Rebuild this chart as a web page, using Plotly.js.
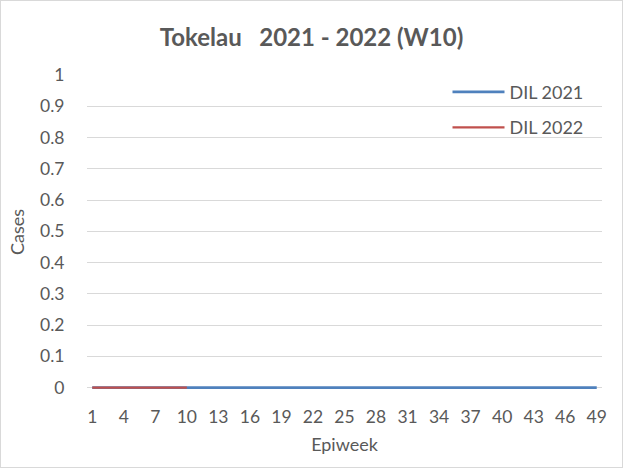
<!DOCTYPE html>
<html>
<head>
<meta charset="utf-8">
<script src="https://cdn.plot.ly/plotly-3.0.1.min.js"></script>
<style>
html,body{margin:0;padding:0;background:#fff;}
#wrap{width:623px;height:468px;box-sizing:border-box;border:1px solid #d9d9d9;}
#chart{width:621px;height:466px;}
</style>
</head>
<body>
<div id="wrap"><div id="chart"></div></div>
<script>
const weeks2021 = [1,2,3,4,5,6,7,8,9,10,11,12,13,14,15,16,17,18,19,20,21,22,23,24,25,26,27,28,29,30,31,32,33,34,35,36,37,38,39,40,41,42,43,44,45,46,47,48,49];
const dil2021 = [0,0,0,0,0,0,0,0,0,0,0,0,0,0,0,0,0,0,0,0,0,0,0,0,0,0,0,0,0,0,0,0,0,0,0,0,0,0,0,0,0,0,0,0,0,0,0,0,0];
const weeks2022 = [1,2,3,4,5,6,7,8,9,10];
const dil2022 = [0,0,0,0,0,0,0,0,0,0];
const xTicks = [1,4,7,10,13,16,19,22,25,28,31,34,37,40,43,46,49];
const yTicks = [0,0.1,0.2,0.3,0.4,0.5,0.6,0.7,0.8,0.9,1];
const yTickText = ["0","0.1","0.2","0.3","0.4","0.5","0.6","0.7","0.8","0.9","1"];

const font = "Lato, 'Open Sans', sans-serif";
const grey = "#595959";
const traces = [
  {x: weeks2021, y: dil2021, name: "DIL 2021", mode: "lines", legendgroup: "a",
   line: {color: "#4f81bd", width: 2.75}},
  {x: weeks2022, y: dil2022, name: "DIL 2022", mode: "lines", legendgroup: "b",
   line: {color: "#c0504d", width: 2.25}}
];
const layout = {
  width: 621, height: 466,
  margin: {l: 86, r: 20, t: 74, b: 78},
  paper_bgcolor: "#fff", plot_bgcolor: "#fff",
  font: {family: font, color: grey, size: 18},
  title: {text: "<b>Tokelau   2021 - 2022 (W10)</b>", font: {family: font, size: 24, color: grey},
          x: 0.5, xanchor: "center", y: 0.922, yanchor: "middle"},
  xaxis: {range: [0.5, 49.5], tickvals: xTicks, ticktext: xTicks.map(String),
          showgrid: false, zeroline: false, showline: false,
          ticks: "outside", ticklen: 12, tickcolor: "rgba(0,0,0,0)",
          tickfont: {size: 17.5, color: grey},
          title: {text: "Epiweek", font: {size: 18, color: grey}, standoff: 12}},
  yaxis: {range: [-0.0045, 1], tickvals: yTicks, ticktext: yTickText,
          showgrid: true, gridcolor: "#d9d9d9", gridwidth: 1, zeroline: false, showline: false,
          ticks: "outside", ticklen: 18, tickcolor: "rgba(0,0,0,0)",
          tickfont: {size: 17.5, color: grey},
          title: {text: "Cases", font: {size: 18, color: grey}, standoff: 10}},
  showlegend: true,
  legend: {x: 0.7, xanchor: "left", y: 1.004, yanchor: "top", bgcolor: "rgba(255,255,255,0)",
           font: {size: 18, color: grey}, traceorder: "grouped", tracegroupgap: 9, itemwidth: 52}
};
Plotly.newPlot("chart", traces, layout, {displayModeBar: false, staticPlot: true});
</script>
</body>
</html>
